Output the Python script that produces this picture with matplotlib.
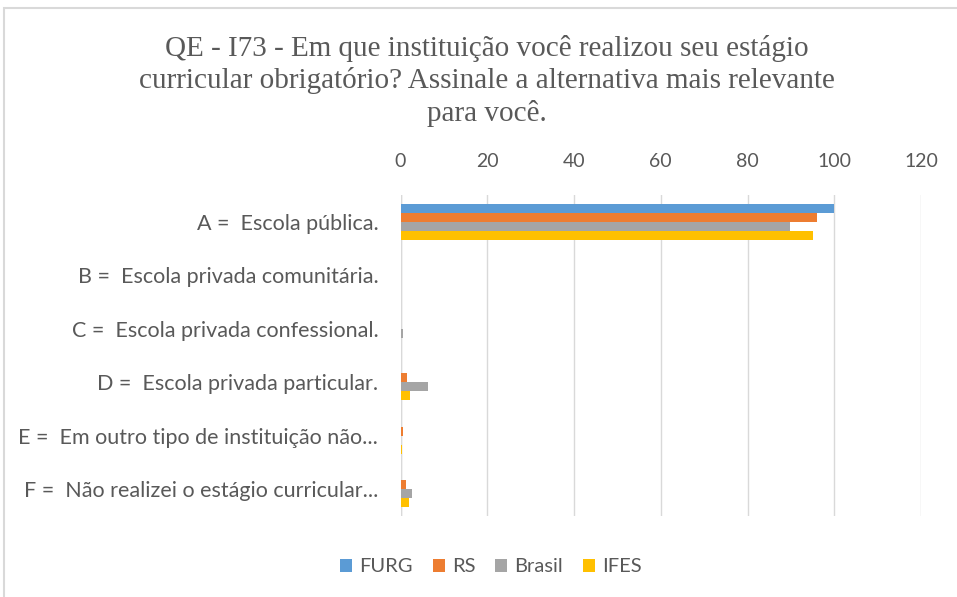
import numpy as np
import matplotlib.pyplot as plt
from matplotlib.patches import Rectangle

categories = [
    'A =  Escola pública.',
    'B =  Escola privada comunitária.',
    'C =  Escola privada confessional.',
    'D =  Escola privada particular.',
    'E =  Em outro tipo de instituição não...',
    'F =  Não realizei o estágio curricular...',
]
series_names = ['FURG', 'RS', 'Brasil', 'IFES']
furg = [100.0, 0.0, 0.0, 0.0, 0.0, 0.0]
rs = [96.0, 0.0, 0.0, 1.6, 0.6, 1.3]
brasil = [89.7, 0.1, 0.5, 6.3, 0.2, 2.7]
ifes = [95.1, 0.0, 0.0, 2.2, 0.3, 1.9]
colors = ['#5B9BD5', '#ED7D31', '#A5A5A5', '#FFC000']

text_color = '#595959'

fig = plt.figure(figsize=(9.57, 5.97), dpi=100)
W, H = 957, 597

# light frame around the chart
fig.patches.append(Rectangle((4 / W, -0.1), 1.2, 1 - 8 / H + 0.1, transform=fig.transFigure,
                             fill=False, edgecolor='#D9D9D9', linewidth=1.5))

ax = fig.add_axes([400.5 / W, 1 - 516 / H, 520.5 / W, 321 / H])

y = np.arange(len(categories))
bar_h = 0.168
values = [furg, rs, brasil, ifes]
for i, (name, vals, c) in enumerate(zip(series_names, values, colors)):
    ax.barh(y + (i - 1.5) * bar_h, vals, height=bar_h, color=c, label=name, zorder=3)

ax.set_xlim(0, 120)
ax.set_ylim(len(categories) - 0.5, -0.5)
ax.set_xticks(np.arange(0, 121, 20))
ax.xaxis.tick_top()
ax.grid(axis='x', color='#D9D9D9', linewidth=1, zorder=0)
ax.set_yticks(y)
ax.set_yticklabels(categories)
ax.tick_params(axis='both', length=0, colors=text_color)
ax.tick_params(axis='x', pad=18, labelsize=14)
ax.tick_params(axis='y', pad=16, labelsize=15.5)
for lbl in ax.get_xticklabels() + ax.get_yticklabels():
    lbl.set_fontfamily('Lato')
for s in ax.spines.values():
    s.set_visible(False)
ax.axvline(0, color='#D9D9D9', linewidth=1, zorder=2)

fig.text(487 / W, 1 - 81 / H,
         'QE - I73 - Em que instituição você realizou seu estágio\n'
         'curricular obrigatório? Assinale a alternativa mais relevante\n'
         'para você.',
         ha='center', va='center', fontsize=21, family='Liberation Serif',
         color=text_color, linespacing=1.27)

fig.legend(loc='center', bbox_to_anchor=(491 / W, 1 - 567 / H), ncol=4, frameon=False,
           prop={'family': 'Lato', 'size': 14.5}, handlelength=0.6,
           handleheight=0.6, handletextpad=0.35, columnspacing=1.0, labelcolor=text_color)

fig.savefig('out.png', dpi=100)
